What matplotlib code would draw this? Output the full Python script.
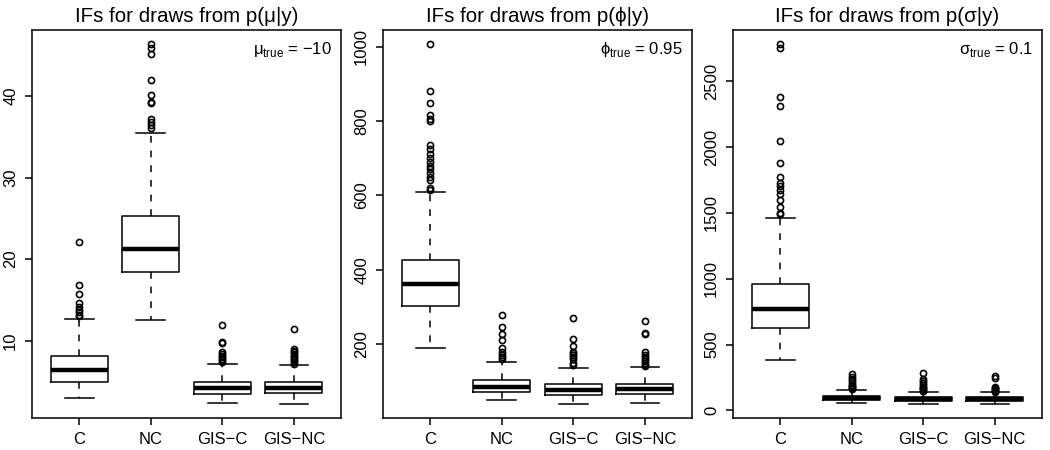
import numpy as np
import matplotlib.pyplot as plt

plt.rcParams['font.family'] = ['Liberation Sans', 'DejaVu Sans']

groups = ['C', 'NC', 'GIS\u2212C', 'GIS\u2212NC']

# p(mu|y)
mu_lo = [2.96, 12.52, 2.43, 2.31]
mu_q1 = [4.91, 18.47, 3.53, 3.61]
mu_med = [6.38, 21.23, 4.18, 4.26]
mu_q3 = [8.09, 25.34, 5.00, 4.91]
mu_hi = [12.69, 35.44, 7.11, 6.99]
mu_out = [
    [22.1, 16.8, 15.7, 14.6, 14.2, 13.8, 13.5, 13.2, 13.0],
    [36.1, 36.4, 36.8, 37.2, 39.1, 39.3, 40.1, 41.9, 45.1, 45.8, 46.3],
    [12.0, 9.8, 9.7, 8.6, 8.4, 8.2, 8.0, 7.8, 7.6, 7.4],
    [11.4, 9.0, 8.8, 8.6, 8.4, 8.2, 8.0, 7.8, 7.6, 7.4, 7.2],
]

# p(phi|y)
phi_lo = [189, 49, 40, 41]
phi_q1 = [303, 71, 63, 65]
phi_med = [361, 86, 76, 80]
phi_q3 = [425, 104, 93, 94]
phi_hi = [609, 152, 136, 139]
phi_out = [
    [1006, 880, 849, 815, 805, 800, 735, 725, 710, 700, 690, 680, 670,
     660, 650, 640, 620, 615],
    [277, 245, 228, 212, 190, 180, 172, 165, 160],
    [270, 214, 195, 180, 175, 170, 165, 160, 150, 145],
    [262, 230, 228, 178, 170, 165, 160, 155, 150, 145, 142],
]

# p(sigma|y)
sig_lo = [385, 56, 51, 51]
sig_q1 = [624, 76, 68, 68]
sig_med = [771, 94, 84, 84]
sig_q3 = [958, 112, 99, 99]
sig_hi = [1463, 157, 142, 139]
sig_out = [
    [2779, 2754, 2378, 2312, 2044, 1876, 1770, 1730, 1700, 1670, 1640,
     1595, 1547, 1500, 1488],
    [274, 255, 240, 225, 210, 195, 185, 175, 170, 165],
    [284, 240, 225, 210, 190, 180, 170, 160, 150, 145],
    [259, 245, 180, 170, 160, 155, 150, 145, 140],
]

panels = [
    ('IFs for draws from p(\u03bc|y)', '\u03bc$_{\\mathrm{true}}$ = \u221210',
     mu_lo, mu_q1, mu_med, mu_q3, mu_hi, mu_out, [10, 20, 30, 40]),
    ('IFs for draws from p(\u03d5|y)', '\u03d5$_{\\mathrm{true}}$ = 0.95',
     phi_lo, phi_q1, phi_med, phi_q3, phi_hi, phi_out, [200, 400, 600, 800, 1000]),
    ('IFs for draws from p(\u03c3|y)', '\u03c3$_{\\mathrm{true}}$ = 0.1',
     sig_lo, sig_q1, sig_med, sig_q3, sig_hi, sig_out, [0, 500, 1000, 1500, 2000, 2500]),
]

plt.rcParams['mathtext.fontset'] = 'custom'
plt.rcParams['mathtext.rm'] = 'Liberation Sans'

fig = plt.figure(figsize=(10.5, 4.5), dpi=100)
lefts = [0.0305, 0.3648, 0.6981]

for left, (title, note, lo, q1, med, q3, hi, out, yt) in zip(lefts, panels):
    ax = fig.add_axes([left, 0.0711, 0.2943, 0.8622])
    stats = []
    for i in range(4):
        stats.append(dict(whislo=lo[i], q1=q1[i], med=med[i], q3=q3[i],
                          whishi=hi[i], fliers=out[i]))
    ax.bxp(stats, positions=[1, 2, 3, 4], widths=0.8, capwidths=0.4,
           boxprops=dict(color='black', lw=1.1),
           medianprops=dict(color='black', lw=3.2, solid_capstyle='butt'),
           whiskerprops=dict(color='black', lw=1.1, linestyle=(0, (4.4, 5.2))),
           capprops=dict(color='black', lw=1.1),
           flierprops=dict(marker='o', markerfacecolor='none',
                           markeredgecolor='black', markersize=4.4, mew=1.2))
    allv = [v for s in stats for v in [s['whislo'], s['whishi']] + list(s['fliers'])]
    vmin, vmax = min(allv), max(allv)
    pad = 0.04 * (vmax - vmin)
    ax.set_ylim(vmin - pad, vmax + pad)
    ax.set_xlim(0.5 - 0.16, 4.5 + 0.16)
    ax.set_xticks([1, 2, 3, 4])
    ax.set_xticklabels(groups, fontsize=12)
    ax.set_yticks(yt)
    ax.set_yticklabels([str(v) for v in yt], fontsize=12, rotation=90, va='center')
    ax.tick_params(axis='both', direction='out', length=5, width=1.1, pad=5)
    for s in ax.spines.values():
        s.set_linewidth(1.1)
    ax.set_title(title, fontsize=14.8, pad=6)
    ax.text(0.97, 0.975, note, transform=ax.transAxes, ha='right', va='top',
            fontsize=12)

fig.savefig('out.png', dpi=100)
